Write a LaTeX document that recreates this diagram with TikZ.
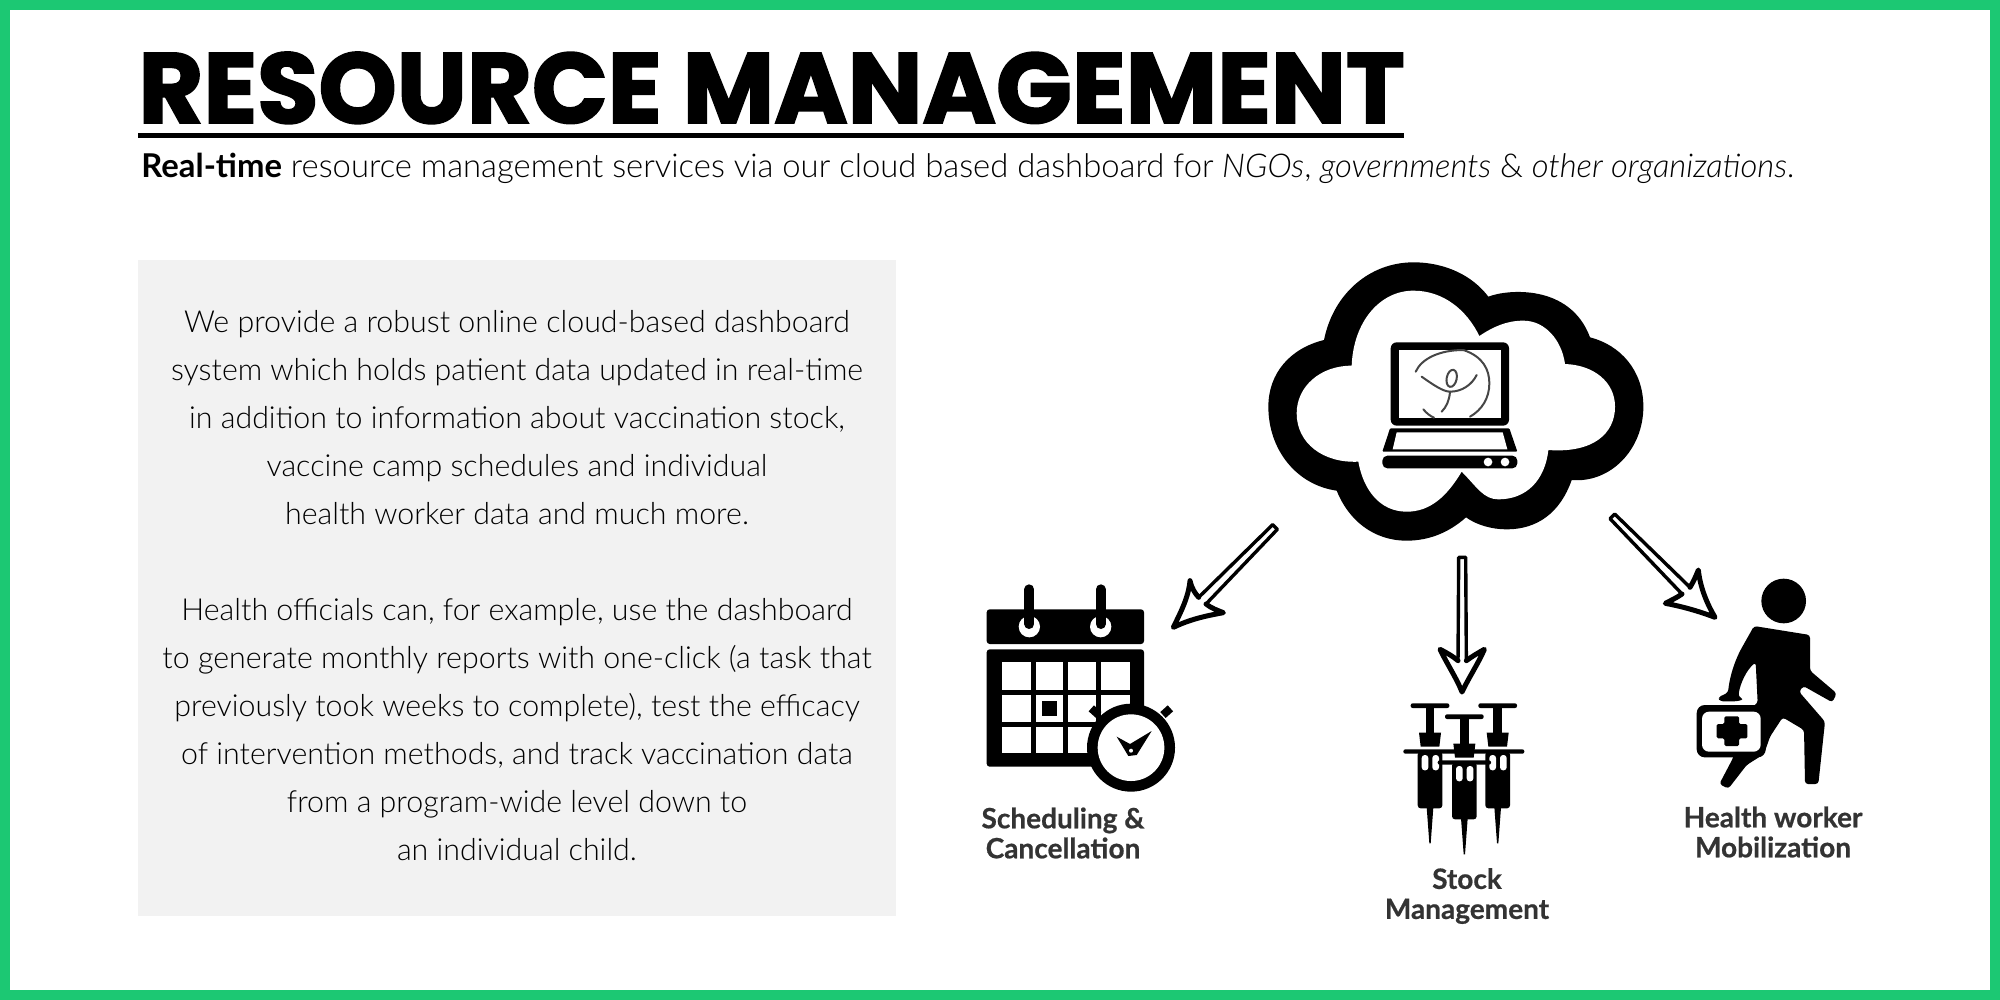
\documentclass[tikz,border=0pt]{standalone}
\usepackage{fontspec}
\setmainfont{Lato Light}[BoldFont=Lato Bold,ItalicFont=Lato Light Italic]
\newfontfamily\titlefont{Poppins Bold}[FakeBold=2]
\newfontfamily\labelfont{Lato Bold}[FakeBold=0.6]
\definecolor{framegreen}{RGB}{28,200,115}
\definecolor{panelgray}{RGB}{242,242,242}
\definecolor{labelgray}{RGB}{51,51,51}
\definecolor{logogray}{RGB}{70,70,70}
\tikzset{
  zoomat/.style 2 args={shift={(#1,#2)},x=0.16667pt,y=-0.16667pt},
  bodytext/.style={align=center,inner sep=0pt,font=\fontsize{15.18}{24}\selectfont},
  icontext/.style={align=center,inner sep=0pt,text=labelgray,font=\labelfont\fontsize{14}{15}\selectfont},
  sketcharrow/.style={draw=black,fill=white,line width=1.7pt,line join=round},
  sketchhead/.style={draw=black,line width=2.5pt,line join=round,line cap=round},
  logoline/.style={draw=logogray,line width=1pt,line cap=round},
}
\newcommand\syringe[2]{%
  \begin{scope}[shift={(#1,#2)}]
    \fill[rounded corners=1pt] (-58,0) rectangle (58,14);
    \fill (-13,10) rectangle (13,92);
    \fill (-33,88) -- (33,88) -- (28,130) -- (-28,130) -- cycle;
    \fill[rounded corners=1pt] (-80,138) rectangle (80,151);
    \fill[rounded corners=1.5pt] (-37,145) -- (37,145) -- (37,315) -- (-37,315) -- cycle;
    \fill (-10,312) -- (10,312) -- (2,420) -- (-2,420) -- cycle;
    \fill[white,rounded corners=1.5pt] (-25,155) rectangle (-5,201);
    \fill[white,rounded corners=1.5pt] (7,155) rectangle (27,201);
  \end{scope}}
\begin{document}
\begin{tikzpicture}[x=0.5pt,y=-0.5pt]
\useasboundingbox (0,0) rectangle (2000,1000);
\fill[white] (0,0) rectangle (2000,1000);
\draw[framegreen,line width=5pt] (5,5) rectangle (1995,995);

% heading
\node[anchor=base west,inner sep=0pt,font=\titlefont\fontsize{49.8}{52}\selectfont] (title) at (138,123) {RESOURCE MANAGEMENT};
\fill (138,133) rectangle (1404,138);
\node[anchor=base west,inner sep=0pt,font=\fontsize{16.4}{18}\selectfont] (subtitle) at (141,178)
  {\textbf{Real-time} resource management services via our cloud based dashboard for \textit{NGOs}, \textit{governments} \& \textit{other organizations}.};

% text panel
\fill[panelgray] (138,260) rectangle (896,916);
\node[bodytext] (body) at (517,586) {We provide a robust online cloud-based dashboard\\
system which holds patient data updated in real-time\\
in addition to information about vaccination stock,\\
vaccine camp schedules and individual\\
health worker data and much more.\\[24pt]
Health officials can, for example, use the dashboard\\
to generate monthly reports with one-click (a task that\\
previously took weeks to complete), test the efficacy\\
of intervention methods, and track vaccination data\\
from a program-wide level down to\\
an individual child.};

% cloud with laptop
\begin{scope}[zoomat={1250}{250}]
  \fill (715,140) .. controls (770,118) and (960,100) .. (1020,262)
    .. controls (1110,285) and (1180,360) .. (1180,470)
    .. controls (1180,600) and (1080,700) .. (965,690)
    .. controls (930,790) and (860,838) .. (770,838)
    .. controls (725,838) and (680,825) .. (648,802)
    .. controls (600,845) and (540,872) .. (470,872)
    .. controls (370,872) and (295,810) .. (260,722)
    .. controls (140,705) and (55,600) .. (55,470)
    .. controls (55,370) and (120,295) .. (222,270)
    .. controls (250,130) and (360,37) .. (490,37)
    .. controls (590,37) and (670,80) .. (715,140) -- cycle;
  \fill[white] (688,258) .. controls (730,230) and (770,212) .. (820,212)
    .. controls (885,212) and (935,270) .. (945,342)
    .. controls (1030,345) and (1095,395) .. (1095,470)
    .. controls (1095,550) and (1030,610) .. (895,600)
    .. controls (885,690) and (830,748) .. (745,748)
    .. controls (700,748) and (680,710) .. (635,665)
    .. controls (590,740) and (540,785) .. (470,785)
    .. controls (390,785) and (340,720) .. (325,635)
    .. controls (220,640) and (140,580) .. (140,490)
    .. controls (140,410) and (210,347) .. (305,347)
    .. controls (310,215) and (390,122) .. (490,122)
    .. controls (580,122) and (650,180) .. (688,258) -- cycle;
  % laptop
  \fill[rounded corners=3pt] (422,277) rectangle (777,527);
  \fill[white] (447,300) rectangle (752,503);
  \fill[rounded corners=0.5pt] (420,535) -- (778,535) -- (802,605) -- (397,605) -- cycle;
  \fill[white] (440,547) -- (758,547) -- (772,598) -- (428,598) -- cycle;
  \fill[rounded corners=2.5pt] (397,617) rectangle (802,655);
  \fill[white] (714,636) circle[radius=13];
  \fill[white] (765,636) circle[radius=13];
  % logo
  \draw[logoline] (497,365) .. controls (515,325) and (570,300) .. (640,300);
  \draw[logoline] (640,300) .. controls (700,320) and (718,360) .. (718,400) .. controls (718,445) and (695,480) .. (660,500);
  \draw[logoline] (520,478) .. controls (530,490) and (540,498) .. (552,503);
  \draw[logoline] (515,380) .. controls (550,405) and (580,425) .. (600,425) .. controls (635,425) and (665,405) .. (680,375);
  \draw[logoline] (600,425) .. controls (598,450) and (590,470) .. (575,485);
  \draw[logoline] (605,385) ellipse[x radius=15,y radius=26,rotate=-12];
\end{scope}

% arrow to scheduling
\begin{scope}[zoomat={960}{510}]
  \draw[sketcharrow] (938,44) -- (952,58) -- (738,282) .. controls (755,295) and (770,300) .. (790,308)
    .. controls (735,318) and (690,328) .. (640,352)
    .. controls (660,310) and (685,265) .. (690,212)
    .. controls (695,235) and (705,250) .. (716,262) -- cycle;
  \draw[sketchhead] (738,282) .. controls (755,295) and (770,300) .. (790,308)
    .. controls (735,318) and (690,328) .. (640,352)
    .. controls (660,310) and (685,265) .. (690,212)
    .. controls (695,235) and (705,250) .. (716,262);
  % calendar
  \fill[rounded corners=1.5pt] (80,298) rectangle (552,402);
  \fill[rounded corners=1.5pt] (80,418) rectangle (552,770);
  \fill[white] (208,350) circle[radius=32];
  \fill[white] (422,350) circle[radius=32];
  \draw[black,line width=5pt,line cap=round] (208,238) -- (208,342);
  \draw[black,line width=5pt,line cap=round] (422,238) -- (422,342);
  \foreach \cx/\cw in {127/85,227/82,323/86,424/87}
    \foreach \cy/\ch in {456/84,554/82,651/79}
      \fill[white] (\cx,\cy) rectangle ++(\cw,\ch);
  \fill (245,573) rectangle (290,618);
  % stopwatch
  \fill (513,713) circle[radius=132];
  \fill[white] (513,713) circle[radius=100];
  \fill[rotate around={-42:(405,605)}] (390,593) rectangle (420,617);
  \fill[rotate around={42:(620,605)}] (605,593) rectangle (635,617);
  \fill (470,680) -- (510,702) -- (575,663) -- (530,735) -- (505,738) -- cycle;
  \fill[white] (513,722) circle[radius=6];
\end{scope}

% arrow to stock, syringes
\begin{scope}[zoomat={1370}{540}]
  \draw[sketcharrow] (266,52) -- (287,52) -- (289,362) .. controls (305,350) and (325,338) .. (343,328)
    .. controls (325,370) and (295,415) .. (276,456)
    .. controls (260,415) and (230,370) .. (210,328)
    .. controls (230,338) and (250,350) .. (264,362) -- cycle;
  \draw[sketchhead] (289,362) .. controls (305,350) and (325,338) .. (343,328)
    .. controls (325,370) and (295,415) .. (276,456)
    .. controls (260,415) and (230,370) .. (210,328)
    .. controls (230,338) and (250,350) .. (264,362);
  \syringe{180}{490}
  \syringe{383}{490}
  \syringe{283}{523}
\end{scope}

% arrow to worker, worker figure
\begin{scope}[zoomat={1590}{500}]
  \draw[sketcharrow] (60,56) -- (74,42) -- (300,262) .. controls (310,245) and (318,228) .. (325,210)
    .. controls (330,260) and (350,310) .. (375,352)
    .. controls (330,335) and (280,320) .. (226,310)
    .. controls (245,300) and (262,292) .. (276,282) -- cycle;
  \draw[sketchhead] (300,262) .. controls (310,245) and (318,228) .. (325,210)
    .. controls (330,260) and (350,310) .. (375,352)
    .. controls (330,335) and (280,320) .. (226,310)
    .. controls (245,300) and (262,292) .. (276,282);
  \fill (581,303) circle[radius=67];
  \fill[rounded corners=1.5pt] (492,378) -- (660,405) -- (660,512) -- (740,580) -- (727,607) -- (640,558) -- (627,575) -- (705,665) -- (685,852) -- (645,852) -- (642,690) -- (578,652) -- (540,710) -- (522,762) -- (470,795) -- (415,866) -- (388,852) -- (430,772) -- (450,640) -- (503,610) -- (497,487) .. controls (470,510) and (450,550) .. (445,590) -- (462,598) -- (440,604) -- (390,604) -- (384,592) -- (414,578) .. controls (420,520) and (440,470) .. (460,435) -- cycle;
  \fill[rounded corners=4pt] (320,615) rectangle (527,772);
  \fill[white,rounded corners=3.5pt] (336,635) rectangle (512,755);
  \fill[rounded corners=0.7pt] (403,649) -- (447,649) -- (447,672) -- (472,672) -- (472,715) -- (447,715) -- (447,738) -- (403,738) -- (403,715) -- (380,715) -- (380,672) -- (403,672) -- cycle;
\end{scope}

% labels
\node[icontext] (sched) at (1063,833) {Scheduling \&\\Cancellation};
\node[icontext] (stock) at (1467,896) {Stock\\Management};
\node[icontext] (worker) at (1773,832) {Health worker\\Mobilization};
\end{tikzpicture}
\end{document}
